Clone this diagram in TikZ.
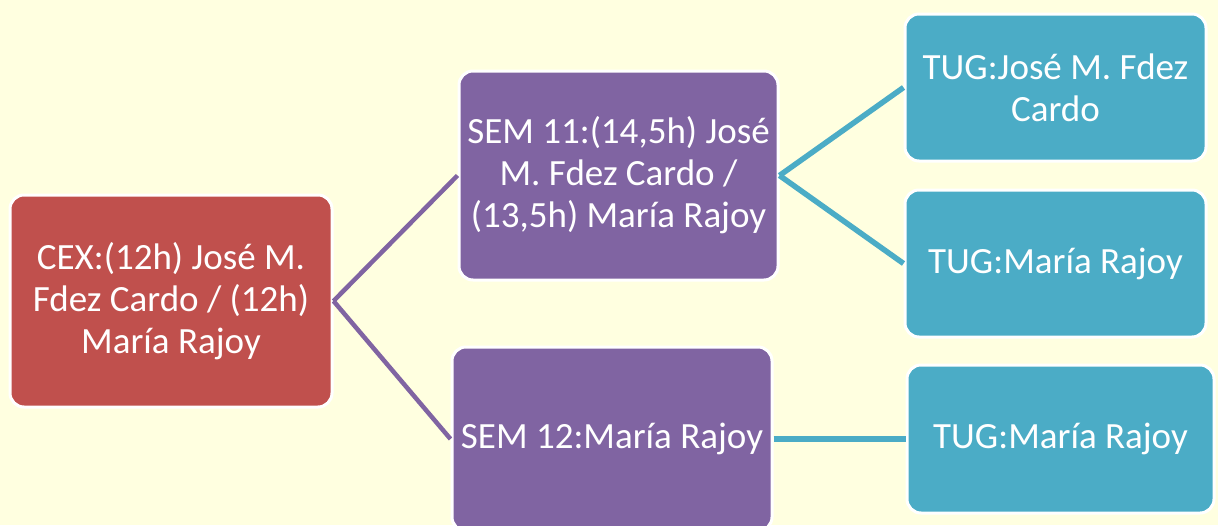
\documentclass[tikz,border=0pt]{standalone}
\usepackage{fontspec}
\setmainfont{Carlito}
\definecolor{bg}{HTML}{FFFFE0}
\definecolor{cexred}{HTML}{C0504D}
\definecolor{sempurple}{HTML}{8064A2}
\definecolor{tugcyan}{HTML}{4BACC6}
\begin{document}
\begin{tikzpicture}[x=1pt,y=-1pt,
  box/.style={rectangle, rounded corners=14pt, draw=white, line width=3pt,
    text=white, align=center, inner sep=0pt,
    font=\fontsize{37}{42}\selectfont},
  cexbox/.style={box, fill=cexred},
  sembox/.style={box, fill=sempurple},
  tugbox/.style={box, fill=tugcyan},
  purpleline/.style={draw=sempurple, line width=4.5pt},
  cyanline/.style={draw=tugcyan, line width=5.5pt}]
\fill[bg] (0,0) rectangle (1218,525);
\useasboundingbox (0,0) rectangle (1218,525);
\begin{scope}
\clip (0,0) rectangle (1218,525);
\node[cexbox, minimum width=322pt, minimum height=212pt] (cex) at (171,301)
  {CEX:(12h) José M.\\Fdez Cardo / (12h)\\María Rajoy};
\node[sembox, minimum width=319pt, minimum height=209pt] (sem11) at (618.5,175.5)
  {SEM 11:(14,5h) José\\M. Fdez Cardo /\\(13,5h) María Rajoy};
\node[sembox, minimum width=320pt, minimum height=184pt] (sem12) at (612,439)
  {SEM 12:María Rajoy};
\node[tugbox, minimum width=301pt, minimum height=147pt] (tug1) at (1055.5,87.5)
  {TUG:José M. Fdez\\Cardo};
\node[tugbox, minimum width=301pt, minimum height=147pt] (tug2) at (1055.5,263.5)
  {TUG:María Rajoy};
\node[tugbox, minimum width=307pt, minimum height=148pt] (tug3) at (1060.5,439)
  {TUG:María Rajoy};
\draw[purpleline] (cex.east) -- (sem11.west);
\draw[purpleline] (cex.east) -- (sem12.west);
\draw[cyanline] (sem11.east) -- (tug1.west);
\draw[cyanline] (sem11.east) -- (tug2.west);
\draw[cyanline] (sem12.east) -- (tug3.west);
\end{scope}
\end{tikzpicture}
\end{document}
